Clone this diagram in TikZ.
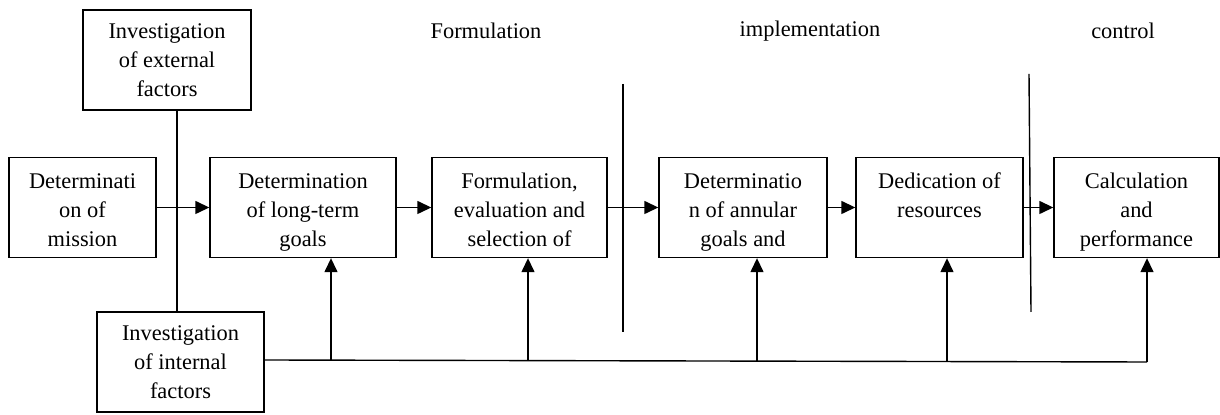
\documentclass[tikz,border=0pt]{standalone}
\usepackage{fontspec}
\setmainfont{Liberation Serif}
\usetikzlibrary{arrows.meta,calc}
\newcommand{\bxt}[2]{\parbox[c][50pt][t]{#1}{\centering\rule{0pt}{15.5pt}#2}}
\begin{document}
\begin{tikzpicture}[x=0.5pt,y=-0.5pt,
  every node/.style={font=\fontsize{11.2}{14.5}\selectfont},
  box/.style={draw,line width=0.7pt,inner sep=0pt},
  ln/.style={line width=0.7pt},
  arr/.style={line width=0.7pt,-{Triangle[length=7pt,width=6.5pt]}},
  ttl/.style={inner sep=0pt}]
\useasboundingbox (0,0) rectangle (1220,415);
% boxes
\node[box] (ext) at (167,60) {\parbox[c][50pt][c]{84pt}{\centering Investigation\\of external\\factors}};
\node[box] (mis) at (82.5,207.5) {\bxt{73.5pt}{Determinati\\on of\\mission}};
\node[box] (lt) at (303,207.5) {\bxt{93pt}{Determination\\of long-term\\goals}};
\node[box] (frm) at (519.5,207.5) {\bxt{87.5pt}{Formulation,\\evaluation and\\selection of}};
\node[box] (ann) at (743,207.5) {\bxt{84pt}{Determinatio\\n of annular\\goals and}};
\node[box] (ded) at (939.5,207.5) {\bxt{83.5pt}{Dedication of\\resources}};
\node[box] (calc) at (1136.5,207.5) {\bxt{82.5pt}{Calculation\\and\\performance}};
\node[box] (int) at (180.5,362) {\parbox[c][50pt][c]{83.5pt}{\centering Investigation\\of internal\\factors}};
% titles
\node[ttl] (t1) at (486,31) {Formulation};
\node[ttl] (t2) at (810,31) {implementation};
\node[ttl] (t3) at (1123,31) {control};
% dividers
\draw[ln] (623,84) -- (623,332);
\draw[ln] (1029,74) -- (1031,312);
% external to internal
\draw[ln] ([xshift=5pt]ext.south) -- ([xshift=5pt]ext.south |- int.north);
% main flow
\draw[arr] (mis.east) -- (lt.west);
\draw[arr] (lt.east) -- (frm.west);
\draw[arr] (frm.east) -- (ann.west);
\draw[arr] (ann.east) -- (ded.west);
\draw[arr] (ded.east) -- (calc.west);
% bus
\coordinate (b1) at (331,360);
\coordinate (b2) at (528,361);
\coordinate (b3) at (757,361);
\coordinate (b4) at (947,362);
\coordinate (b5) at (1147,362);
\draw[ln] (int.east |- b1) -- (b5);
\draw[arr] (b1) -- (b1 |- lt.south);
\draw[arr] (b2) -- (b2 |- frm.south);
\draw[arr] (b3) -- (b3 |- ann.south);
\draw[arr] (b4) -- (b4 |- ded.south);
\draw[arr] (b5) -- (b5 |- calc.south);
\end{tikzpicture}
\end{document}
